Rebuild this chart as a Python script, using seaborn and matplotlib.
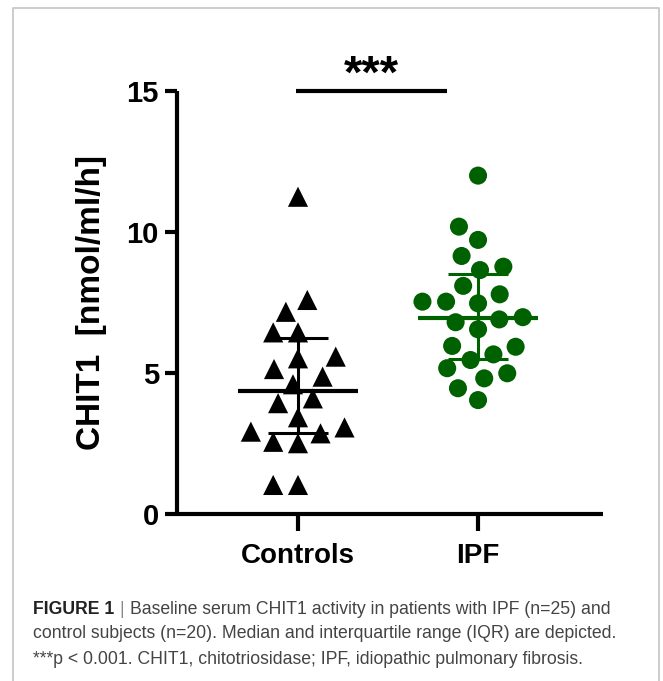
import numpy as np
import pandas as pd
import matplotlib
matplotlib.use("Agg")
import matplotlib.pyplot as plt
import seaborn as sns
from matplotlib.lines import Line2D

# ---- data ----
groups = ["Controls", "IPF"]
controls = [11.25, 7.59, 7.17, 6.44, 6.44, 5.58, 5.52, 5.14, 4.87, 4.60,
            4.10, 3.93, 3.43, 3.07, 2.92, 2.86, 2.56, 2.51, 1.03, 1.03]
ipf = [12.0, 10.19, 9.72, 9.15, 8.77, 8.65, 8.09, 7.79, 7.53, 7.53, 7.47,
       6.98, 6.90, 6.80, 6.55, 5.96, 5.93, 5.66, 5.46, 5.17, 4.99, 4.81,
       4.46, 4.04]
y_ticks = [0, 5, 10, 15]
sig_label = "***"
y_label = "CHIT1  [nmol/ml/h]"
caption_bold = "FIGURE 1"
caption_lines = [
    "Baseline serum CHIT1 activity in patients with IPF (n=25) and",
    "control subjects (n=20). Median and interquartile range (IQR) are depicted.",
    "***p < 0.001. CHIT1, chitotriosidase; IPF, idiopathic pulmonary fibrosis.",
]

df = pd.DataFrame({
    "group": ["Controls"] * len(controls) + ["IPF"] * len(ipf),
    "value": controls + ipf,
})

sns.set_theme(style="white")
plt.rcParams["font.family"] = ["Liberation Sans", "DejaVu Sans"]
plt.rcParams["text.color"] = "black"
plt.rcParams["axes.labelcolor"] = "black"
plt.rcParams["xtick.color"] = "black"
plt.rcParams["ytick.color"] = "black"

W, H = 663, 681
fig = plt.figure(figsize=(W / 100, H / 100), dpi=100)
ax = fig.add_axes([177 / W, 1 - 514 / H, (603 - 177) / W, (514 - 91) / H])

green = "#006100"
sns.swarmplot(data=df[df.group == "Controls"], x="group", y="value",
              order=groups, marker="^", color="black", size=14.5,
              linewidth=2.5, ax=ax)
sns.swarmplot(data=df[df.group == "IPF"], x="group", y="value",
              order=groups, marker="o", color=green, size=13,
              linewidth=3.2, ax=ax)
# edge width only widens the swarm spacing; the edge itself is not drawn
for coll in ax.collections:
    coll.set_edgecolor("none")

# median + IQR
for i, (vals, col) in enumerate([(controls, "black"), (ipf, green)]):
    q1, med, q3 = np.percentile(vals, [25, 50, 75], method="weibull")
    ax.hlines(med, i - 0.333, i + 0.333, color=col, lw=3.0, zorder=5)
    ax.hlines([q1, q3], i - 0.167, i + 0.167, color=col, lw=2.2, zorder=5)
    ax.vlines(i, q1, q3, color=col, lw=2.2, zorder=5)

ax.set_xlim(-0.672, 1.694)
ax.set_ylim(0, 15)
ax.set_yticks(y_ticks)
ax.set_yticklabels([str(t) for t in y_ticks])
ax.set_xlabel("")
ax.set_ylabel(y_label, fontsize=24, fontweight="bold", labelpad=14,
              color="black")

for s in ["top", "right"]:
    ax.spines[s].set_visible(False)
for s in ["left", "bottom"]:
    ax.spines[s].set_linewidth(3.0)
    ax.spines[s].set_color("black")
    ax.spines[s].set_capstyle("butt")

ax.tick_params(axis="y", which="major", left=True, length=9, width=3.0,
               labelsize=21, pad=4, color="black", labelcolor="black")
ax.tick_params(axis="x", which="major", bottom=True, length=12, width=3.0,
               labelsize=20, pad=9, color="black", labelcolor="black")
for lab in ax.get_yticklabels() + ax.get_xticklabels():
    lab.set_fontweight("bold")
ax.set_facecolor("white")
ax.grid(False)

# significance bar
ax.plot([-0.011, 0.83], [15, 15], color="black", lw=3.0, clip_on=False,
        solid_capstyle="butt")
ax.annotate(sig_label, xy=(0.41, 15), xytext=(0, 2.5), textcoords="offset points",
            ha="center", va="baseline", fontsize=34, fontweight="bold",
            color="black", annotation_clip=False)

# border frame
fig.add_artist(Line2D([13 / W, 13 / W, 659 / W, 659 / W],
                      [-0.1, 1 - 8 / H, 1 - 8 / H, -0.1],
                      transform=fig.transFigure, color="#c4c4c4", lw=1.2))

# caption
cap_font = ["Liberation Sans Narrow", "Liberation Sans", "DejaVu Sans"]
fs = 12.7
y0 = 1 - 609 / H
dy = 25 / H
tb = fig.text(33 / W, y0, caption_bold, fontsize=fs, fontweight="bold",
              color="#222222", va="center", family=cap_font)
fig.canvas.draw()
bb = tb.get_window_extent()
x1 = bb.x1 / W
fig.text(x1 + 5 / W, y0, "|", fontsize=fs, color="#888888", va="center",
         family=cap_font)
fig.text(x1 + 16 / W, y0, caption_lines[0], fontsize=fs, color="#444444",
         va="center", family=cap_font)
for k, line in enumerate(caption_lines[1:], start=1):
    fig.text(33 / W, y0 - k * dy, line, fontsize=fs, color="#444444",
             va="center", family=cap_font)

fig.savefig("out.png", dpi=100, facecolor="white")
